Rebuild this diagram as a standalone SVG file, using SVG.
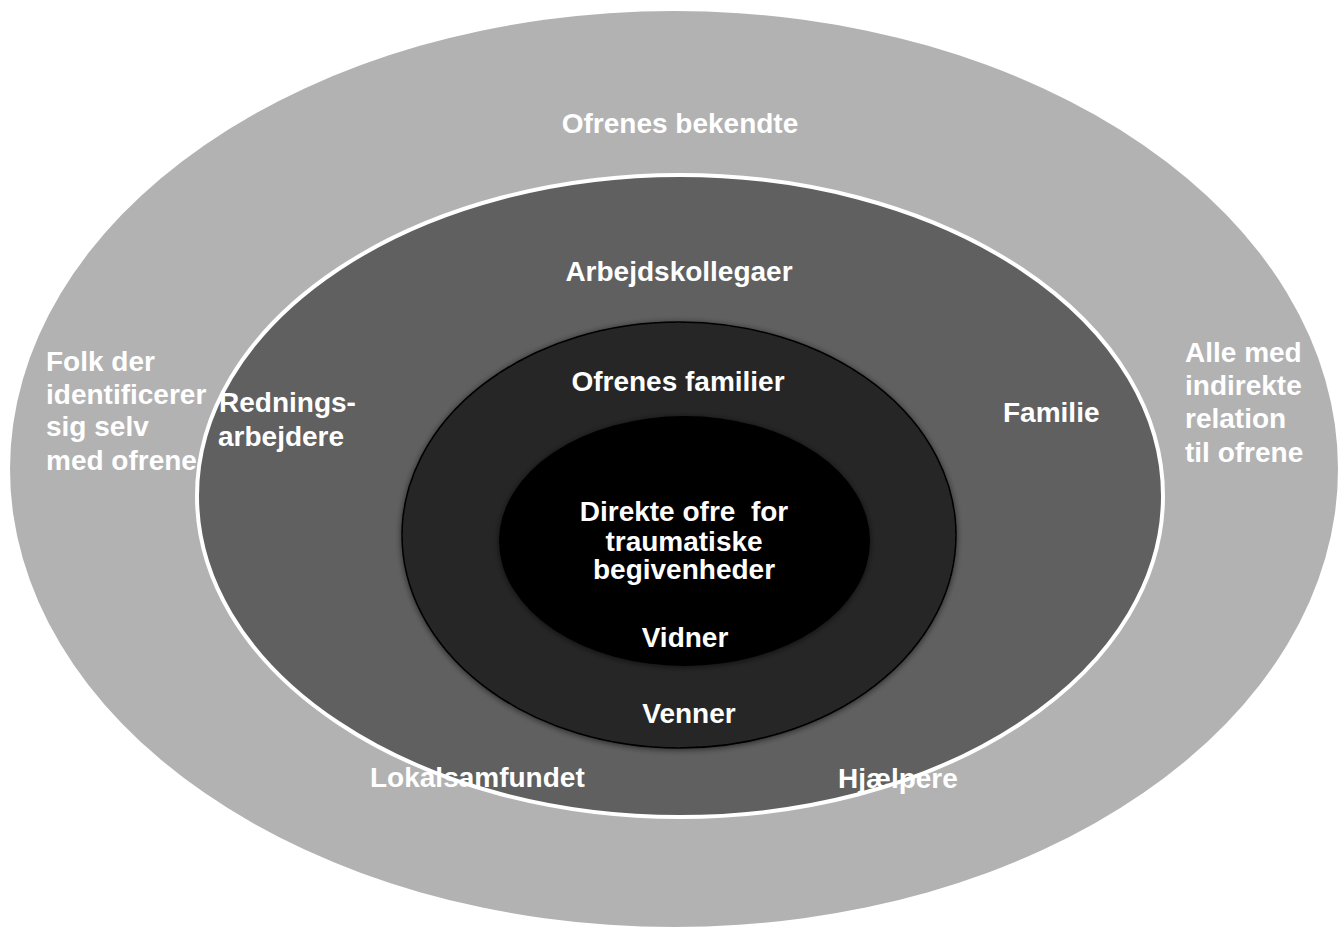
<svg xmlns="http://www.w3.org/2000/svg" width="1338" height="929" viewBox="0 0 1338 929">
  <defs>
    <filter id="shadow" x="-10%" y="-10%" width="120%" height="120%">
      <feGaussianBlur in="SourceAlpha" stdDeviation="3"/>
      <feOffset dx="0" dy="1" result="b"/>
      <feComponentTransfer><feFuncA type="linear" slope="0.6"/></feComponentTransfer>
      <feMerge><feMergeNode/><feMergeNode in="SourceGraphic"/></feMerge>
    </filter>
  </defs>
  <style>
    text { font-family: "Liberation Sans", Arial, sans-serif; font-weight: bold; font-size: 28px; fill: #ffffff; }
    .c { text-anchor: middle; }
  </style>
  <rect width="1338" height="929" fill="#ffffff"/>
  <g id="ring-outer">
    <ellipse cx="674" cy="469" rx="664" ry="458" fill="#b2b2b2"/>
  </g>
  <g id="ring-second">
    <ellipse cx="680" cy="496" rx="483" ry="321" fill="#606060" stroke="#ffffff" stroke-width="4"/>
  </g>
  <g id="ring-third">
    <ellipse cx="679" cy="535" rx="277" ry="213" fill="#262626" stroke="#000000" stroke-width="1.5" filter="url(#shadow)"/>
  </g>
  <g id="ring-inner">
    <ellipse cx="684.5" cy="541" rx="185.5" ry="125" fill="#000000" filter="url(#shadow)"/>
  </g>
  <g id="connectors"></g>
  <g id="labels">
    <g id="lbl-bekendte"><text class="c" x="680" y="133">Ofrenes bekendte</text></g>
    <g id="lbl-arbejdskollegaer"><text class="c" x="679" y="281">Arbejdskollegaer</text></g>
    <g id="lbl-familier"><text class="c" x="678" y="391">Ofrenes familier</text></g>
    <g id="lbl-direkte">
      <text class="c" x="684" y="521" xml:space="preserve">Direkte ofre  for</text>
      <text class="c" x="684" y="551">traumatiske</text>
      <text class="c" x="684" y="579">begivenheder</text>
    </g>
    <g id="lbl-vidner"><text class="c" x="685" y="647">Vidner</text></g>
    <g id="lbl-venner"><text class="c" x="689" y="723">Venner</text></g>
    <g id="lbl-redning">
      <text x="219" y="412">Rednings-</text>
      <text x="218" y="446">arbejdere</text>
    </g>
    <g id="lbl-folk">
      <text x="46" y="371">Folk der</text>
      <text x="46" y="404">identificerer</text>
      <text x="46" y="436">sig selv</text>
      <text x="46" y="470">med ofrene</text>
    </g>
    <g id="lbl-alle">
      <text x="1185" y="362">Alle med</text>
      <text x="1185" y="395">indirekte</text>
      <text x="1185" y="428">relation</text>
      <text x="1185" y="462">til ofrene</text>
    </g>
    <g id="lbl-familie"><text x="1003" y="422">Familie</text></g>
    <g id="lbl-lokal"><text x="370" y="787">Lokalsamfundet</text></g>
    <g id="lbl-hjaelpere"><text x="838" y="788">Hjælpere</text></g>
  </g>
</svg>
